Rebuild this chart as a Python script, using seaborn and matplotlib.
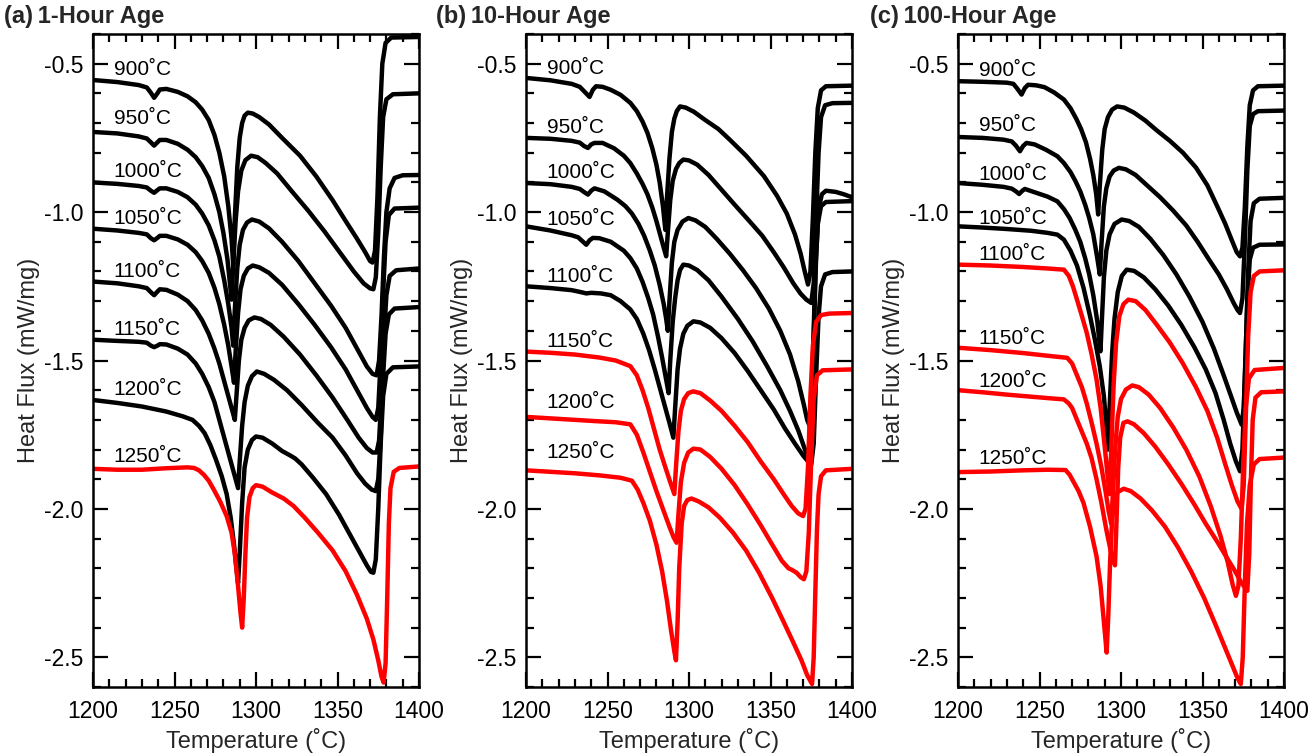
import matplotlib
matplotlib.use("Agg")
import matplotlib.pyplot as plt
import pandas as pd
import seaborn as sns
from matplotlib.ticker import MultipleLocator

# ---------------- data (temperature degC, heat flux mW/mg) ----------------
A900 = [(1200,-0.555),(1215,-0.562),(1228,-0.572),(1233,-0.58),(1235.5,-0.598),(1237.5,-0.615),(1239.5,-0.60),(1241,-0.587),(1245,-0.585),(1252,-0.595),(1258,-0.61),(1263,-0.63),(1267,-0.655),(1271,-0.69),(1274.5,-0.74),(1277.5,-0.80),(1280.5,-0.88),(1283,-0.98),(1285,-1.09),(1286,-1.18),(1287,-1.02),(1288.5,-0.85),(1290,-0.75),(1291.5,-0.70),(1293,-0.675),(1295,-0.665),(1298,-0.668),(1302,-0.68),(1308,-0.705),(1316,-0.75),(1327,-0.81),(1337,-0.88),(1347,-0.96),(1355,-1.03),(1362,-1.09),(1367,-1.135),(1370,-1.165),(1371.5,-1.17),(1373,-1.13),(1374.5,-0.95),(1376,-0.68),(1377.5,-0.50),(1379.5,-0.43),(1383,-0.412),(1400,-0.41)]
A950 = [(1200,-0.73),(1215,-0.735),(1228,-0.745),(1233,-0.752),(1235.5,-0.765),(1237.5,-0.776),(1239.5,-0.765),(1241,-0.757),(1245,-0.757),(1252,-0.77),(1258,-0.79),(1263,-0.815),(1267,-0.845),(1271,-0.885),(1274.5,-0.94),(1277.5,-1.00),(1280,-1.07),(1282.5,-1.16),(1284,-1.24),(1285,-1.295),(1286,-1.18),(1287.5,-1.03),(1289,-0.93),(1291,-0.86),(1293.5,-0.825),(1297,-0.81),(1301,-0.815),(1306,-0.835),(1313,-0.87),(1322,-0.93),(1332,-0.995),(1342,-1.065),(1352,-1.14),(1360,-1.20),(1366,-1.24),(1370,-1.257),(1372,-1.26),(1373.5,-1.22),(1375,-1.07),(1376.5,-0.85),(1378,-0.68),(1380,-0.62),(1384,-0.603),(1400,-0.60)]
A1000 = [(1200,-0.90),(1215,-0.905),(1228,-0.912),(1233,-0.917),(1235.5,-0.928),(1237.5,-0.935),(1239.5,-0.926),(1241,-0.92),(1245,-0.92),(1252,-0.932),(1258,-0.95),(1263,-0.975),(1267,-1.005),(1271,-1.045),(1274.5,-1.095),(1277.5,-1.15),(1280.5,-1.23),(1283,-1.31),(1285,-1.39),(1286,-1.45),(1287,-1.33),(1288.5,-1.19),(1290,-1.11),(1292,-1.06),(1294.5,-1.035),(1297.5,-1.025),(1302,-1.032),(1308,-1.055),(1316,-1.10),(1326,-1.165),(1336,-1.24),(1346,-1.315),(1355,-1.39),(1362,-1.46),(1368,-1.52),(1371.5,-1.545),(1374,-1.55),(1375.5,-1.50),(1377,-1.35),(1378.5,-1.15),(1380,-1.00),(1382,-0.92),(1385,-0.885),(1390,-0.876),(1400,-0.875)]
A1050 = [(1200,-1.056),(1215,-1.062),(1228,-1.07),(1233,-1.075),(1235.5,-1.088),(1237.5,-1.095),(1239.5,-1.087),(1241,-1.08),(1245,-1.08),(1252,-1.092),(1258,-1.11),(1263,-1.135),(1267,-1.165),(1271,-1.205),(1274.5,-1.255),(1277.5,-1.31),(1280.5,-1.38),(1283,-1.45),(1285,-1.52),(1286.5,-1.575),(1287.5,-1.47),(1289,-1.34),(1290.5,-1.26),(1292.5,-1.215),(1295,-1.19),(1298,-1.18),(1302,-1.186),(1308,-1.205),(1316,-1.245),(1326,-1.31),(1336,-1.38),(1346,-1.455),(1355,-1.53),(1362,-1.60),(1368,-1.66),(1371.5,-1.69),(1373.5,-1.70),(1375,-1.66),(1376.5,-1.50),(1378,-1.27),(1379.5,-1.10),(1381.5,-1.01),(1385,-0.988),(1400,-0.985)]
A1100 = [(1200,-1.234),(1215,-1.24),(1228,-1.25),(1233,-1.256),(1235.5,-1.27),(1237.5,-1.28),(1239.5,-1.268),(1241,-1.26),(1245,-1.262),(1252,-1.278),(1258,-1.30),(1263,-1.33),(1267,-1.365),(1271,-1.41),(1274.5,-1.46),(1277.5,-1.51),(1280.5,-1.57),(1283,-1.62),(1285.5,-1.67),(1287,-1.70),(1288,-1.62),(1289.5,-1.50),(1291,-1.43),(1293,-1.39),(1295.5,-1.365),(1299,-1.355),(1303,-1.36),(1309,-1.38),(1317,-1.42),(1327,-1.48),(1337,-1.55),(1347,-1.625),(1356,-1.70),(1363,-1.76),(1368,-1.795),(1371.5,-1.81),(1374,-1.81),(1375.5,-1.77),(1377,-1.62),(1378.5,-1.42),(1380,-1.28),(1382,-1.215),(1386,-1.196),(1400,-1.19)]
A1150 = [(1200,-1.43),(1215,-1.434),(1228,-1.437),(1233,-1.44),(1235.5,-1.45),(1237.5,-1.455),(1239.5,-1.45),(1241,-1.445),(1245,-1.446),(1252,-1.46),(1258,-1.48),(1263,-1.51),(1267,-1.545),(1271,-1.59),(1274.5,-1.64),(1277.5,-1.70),(1280.5,-1.76),(1283.5,-1.82),(1286.5,-1.88),(1289,-1.93),(1290,-1.84),(1291.5,-1.72),(1293,-1.64),(1295,-1.585),(1297.5,-1.553),(1300.5,-1.537),(1305,-1.545),(1311,-1.565),(1319,-1.60),(1328,-1.65),(1338,-1.71),(1347,-1.76),(1355,-1.82),(1362,-1.88),(1367,-1.915),(1371,-1.935),(1373.5,-1.94),(1375,-1.90),(1376.5,-1.76),(1378,-1.55),(1379.5,-1.41),(1381.5,-1.345),(1385,-1.325),(1400,-1.32)]
A1200 = [(1200,-1.633),(1215,-1.643),(1230,-1.655),(1245,-1.672),(1255,-1.688),(1261,-1.70),(1265,-1.72),(1268.5,-1.745),(1272,-1.785),(1275.5,-1.835),(1279,-1.89),(1282,-1.95),(1284.5,-2.03),(1286.5,-2.12),(1288,-2.20),(1289,-2.25),(1290,-2.15),(1291.5,-1.98),(1293,-1.86),(1295,-1.80),(1297.5,-1.768),(1300,-1.756),(1304,-1.76),(1310,-1.78),(1316,-1.805),(1321,-1.82),(1324,-1.83),(1328,-1.85),(1335,-1.895),(1343,-1.95),(1351,-2.02),(1358,-2.09),(1364,-2.15),(1368,-2.19),(1370.5,-2.212),(1372,-2.215),(1373.5,-2.17),(1375,-2.00),(1376.5,-1.78),(1378,-1.62),(1380,-1.545),(1384,-1.523),(1400,-1.52)]
A1250 = [(1200,-1.865),(1215,-1.868),(1230,-1.868),(1245,-1.863),(1258,-1.86),(1262,-1.862),(1265,-1.87),(1268,-1.885),(1271,-1.905),(1274,-1.934),(1278,-1.975),(1282,-2.024),(1285,-2.08),(1287,-2.15),(1289,-2.26),(1290.5,-2.35),(1291.5,-2.40),(1292.5,-2.30),(1293.5,-2.15),(1294.5,-2.03),(1296,-1.96),(1298,-1.93),(1300,-1.92),(1304,-1.925),(1310,-1.945),(1317,-1.965),(1323,-1.99),(1330,-2.03),(1338,-2.08),(1347,-2.14),(1355,-2.21),(1362,-2.29),(1368,-2.37),(1372,-2.44),(1375,-2.51),(1377,-2.565),(1378.3,-2.585),(1379.5,-2.52),(1380.5,-2.30),(1381.5,-2.05),(1382.5,-1.93),(1384.5,-1.875),(1388,-1.862),(1400,-1.857)]

B900 = [(1200,-0.548),(1215,-0.556),(1228,-0.568),(1233,-0.578),(1236,-0.595),(1239,-0.612),(1241,-0.588),(1243,-0.576),(1247,-0.578),(1252,-0.588),(1258,-0.605),(1264,-0.632),(1268,-0.66),(1271.5,-0.695),(1274.5,-0.733),(1277.5,-0.785),(1280,-0.84),(1282,-0.90),(1284,-0.98),(1285.5,-1.06),(1286.5,-0.95),(1288,-0.82),(1289.5,-0.73),(1291,-0.685),(1292.5,-0.66),(1294.5,-0.644),(1298,-0.648),(1303,-0.662),(1310,-0.69),(1318,-0.72),(1325,-0.756),(1335,-0.81),(1346,-0.879),(1354,-0.945),(1360,-1.005),(1365,-1.075),(1368.5,-1.14),(1371,-1.20),(1373,-1.244),(1374.5,-1.20),(1376,-1.02),(1377.5,-0.80),(1379,-0.65),(1381,-0.59),(1384,-0.576),(1400,-0.574)]
B950 = [(1200,-0.75),(1215,-0.753),(1228,-0.76),(1233,-0.766),(1235.5,-0.777),(1238,-0.784),(1240,-0.772),(1242,-0.767),(1247,-0.767),(1254,-0.785),(1260,-0.81),(1264,-0.835),(1268,-0.87),(1271.5,-0.905),(1274.5,-0.94),(1277.5,-0.985),(1280,-1.03),(1282.5,-1.08),(1284.5,-1.12),(1286,-1.149),(1287,-1.07),(1288.5,-0.96),(1290,-0.895),(1292,-0.855),(1294,-0.835),(1296.5,-0.823),(1300,-0.826),(1305,-0.84),(1312,-0.875),(1320,-0.925),(1328,-0.975),(1337,-1.03),(1345,-1.08),(1352,-1.135),(1358,-1.185),(1364,-1.24),(1368.5,-1.275),(1372,-1.295),(1375,-1.306),(1376.5,-1.24),(1378,-1.02),(1379.5,-0.80),(1381,-0.68),(1383.5,-0.64),(1388,-0.633),(1400,-0.632)]
B1000 = [(1200,-0.902),(1215,-0.906),(1228,-0.915),(1233,-0.922),(1235.5,-0.932),(1238,-0.941),(1240,-0.928),(1242,-0.92),(1248,-0.93),(1256,-0.958),(1261,-0.98),(1265,-1.005),(1269,-1.04),(1272.5,-1.08),(1276,-1.13),(1279,-1.18),(1282,-1.245),(1284.5,-1.31),(1286,-1.36),(1287,-1.40),(1288,-1.30),(1289.5,-1.17),(1291,-1.10),(1293,-1.06),(1296,-1.032),(1299.6,-1.02),(1304,-1.028),(1310,-1.05),(1317,-1.09),(1325,-1.14),(1333,-1.195),(1341,-1.255),(1349,-1.325),(1356,-1.40),(1362,-1.48),(1367,-1.57),(1370.5,-1.65),(1372.5,-1.70),(1374,-1.72),(1375,-1.66),(1376.5,-1.42),(1378,-1.15),(1379.5,-0.99),(1381.5,-0.94),(1384,-0.928),(1390,-0.932),(1395,-0.94),(1400,-0.95)]
B1050 = [(1200,-1.048),(1215,-1.062),(1228,-1.078),(1232,-1.085),(1235,-1.10),(1237,-1.11),(1239,-1.095),(1241,-1.087),(1245,-1.088),(1252,-1.10),(1260,-1.13),(1264,-1.155),(1268,-1.19),(1271.5,-1.235),(1275,-1.29),(1278,-1.345),(1281,-1.42),(1283.5,-1.49),(1286,-1.565),(1287.5,-1.61),(1288.5,-1.50),(1290,-1.37),(1291.5,-1.29),(1293,-1.23),(1294.5,-1.195),(1296.5,-1.177),(1300,-1.18),(1305,-1.195),(1312,-1.23),(1320,-1.285),(1330,-1.36),(1339,-1.435),(1348,-1.52),(1356,-1.60),(1362,-1.67),(1367,-1.735),(1370.5,-1.79),(1373,-1.83),(1374.5,-1.75),(1376,-1.50),(1377.5,-1.20),(1379,-1.04),(1381,-0.98),(1384,-0.966),(1400,-0.963)]
B1100 = [(1200,-1.25),(1215,-1.256),(1228,-1.263),(1234,-1.27),(1237,-1.274),(1240,-1.272),(1246,-1.274),(1252,-1.28),(1258,-1.30),(1264,-1.328),(1268,-1.36),(1272,-1.41),(1275.5,-1.465),(1279,-1.53),(1282,-1.59),(1285,-1.65),(1288,-1.71),(1290.4,-1.76),(1291.5,-1.66),(1293,-1.53),(1294.5,-1.46),(1296.5,-1.41),(1299,-1.383),(1302.7,-1.368),(1307,-1.372),(1313,-1.39),(1320,-1.425),(1328,-1.475),(1336,-1.535),(1344,-1.60),(1352,-1.665),(1359,-1.73),(1365,-1.78),(1370,-1.82),(1373,-1.84),(1375,-1.85),(1376.5,-1.78),(1378,-1.55),(1379.5,-1.35),(1381,-1.25),(1383.5,-1.21),(1388,-1.202),(1400,-1.20)]
B1150 = [(1200,-1.47),(1215,-1.474),(1230,-1.48),(1245,-1.49),(1255,-1.50),(1264,-1.519),(1268,-1.55),(1271.5,-1.60),(1275,-1.66),(1278.5,-1.73),(1282,-1.80),(1285.5,-1.86),(1288.5,-1.91),(1291,-1.95),(1292,-1.86),(1293.5,-1.74),(1295,-1.67),(1297,-1.63),(1299.5,-1.61),(1302.6,-1.604),(1307,-1.61),(1313,-1.635),(1320,-1.67),(1328,-1.72),(1336,-1.775),(1344,-1.84),(1352,-1.90),(1358,-1.95),(1363,-1.99),(1367,-2.015),(1370,-2.024),(1371.5,-2.00),(1373,-1.86),(1374.5,-1.62),(1376,-1.45),(1378,-1.37),(1381,-1.347),(1386,-1.342),(1400,-1.34)]
B1200 = [(1200,-1.69),(1215,-1.695),(1230,-1.70),(1245,-1.705),(1255,-1.708),(1264,-1.715),(1268,-1.75),(1272,-1.81),(1276,-1.875),(1280,-1.94),(1284,-2.00),(1288,-2.06),(1290.5,-2.095),(1292.4,-2.114),(1293.5,-2.02),(1295,-1.91),(1297,-1.845),(1299.5,-1.81),(1302.7,-1.797),(1307,-1.80),(1313,-1.825),(1320,-1.865),(1328,-1.92),(1336,-1.985),(1344,-2.055),(1351,-2.12),(1357,-2.175),(1361,-2.20),(1363,-2.205),(1366,-2.215),(1368.5,-2.23),(1370.5,-2.237),(1372,-2.21),(1373.5,-2.08),(1375,-1.83),(1376.5,-1.63),(1378.5,-1.55),(1382,-1.533),(1400,-1.53)]
B1250 = [(1200,-1.87),(1215,-1.875),(1230,-1.88),(1245,-1.887),(1258,-1.895),(1265,-1.905),(1268.5,-1.935),(1272,-1.98),(1276,-2.04),(1280,-2.12),(1283.5,-2.21),(1286.5,-2.31),(1289,-2.41),(1291,-2.48),(1292,-2.51),(1293,-2.38),(1294,-2.20),(1295.5,-2.05),(1297,-1.99),(1299,-1.97),(1301.5,-1.965),(1306,-1.975),(1312,-1.995),(1319,-2.03),(1327,-2.08),(1335,-2.14),(1343,-2.215),(1351,-2.30),(1358,-2.38),(1364,-2.45),(1369,-2.51),(1372.5,-2.56),(1375.5,-2.59),(1376.5,-2.50),(1377.5,-2.28),(1378.5,-2.07),(1379.5,-1.95),(1381,-1.89),(1384,-1.87),(1400,-1.865)]

C900 = [(1200,-0.559),(1215,-0.561),(1230,-0.564),(1234,-0.568),(1236.5,-0.585),(1239,-0.604),(1241,-0.582),(1243,-0.571),(1248,-0.573),(1253,-0.579),(1259,-0.597),(1265,-0.621),(1269,-0.65),(1272.5,-0.685),(1275.5,-0.72),(1278.5,-0.765),(1281,-0.82),(1283,-0.875),(1284.8,-0.94),(1286,-1.008),(1287,-0.91),(1288.5,-0.79),(1290,-0.72),(1292,-0.68),(1294.5,-0.655),(1297.6,-0.644),(1302,-0.648),(1308,-0.665),(1315,-0.692),(1322,-0.725),(1330,-0.76),(1338,-0.80),(1346,-0.85),(1353,-0.91),(1359,-0.98),(1364,-1.04),(1368,-1.095),(1371,-1.135),(1373,-1.149),(1374.5,-1.12),(1376,-0.98),(1377.5,-0.78),(1379,-0.64),(1381,-0.59),(1384,-0.576),(1400,-0.574)]
C950 = [(1200,-0.747),(1215,-0.75),(1228,-0.756),(1233,-0.762),(1235.5,-0.776),(1238,-0.795),(1240,-0.777),(1242,-0.767),(1247,-0.772),(1254,-0.79),(1261,-0.812),(1265,-0.835),(1269,-0.865),(1272,-0.895),(1275,-0.93),(1278,-0.975),(1280.5,-1.02),(1283,-1.075),(1285.3,-1.15),(1287,-1.21),(1288,-1.11),(1289.5,-0.98),(1291,-0.92),(1293,-0.88),(1295.5,-0.86),(1298.7,-0.851),(1303,-0.856),(1309,-0.875),(1316,-0.91),(1324,-0.95),(1332,-0.995),(1340,-1.045),(1347,-1.10),(1354,-1.16),(1360,-1.21),(1365,-1.26),(1369,-1.305),(1371.5,-1.33),(1373,-1.34),(1374.5,-1.29),(1376,-1.10),(1377.5,-0.86),(1379,-0.71),(1381,-0.67),(1384,-0.66),(1400,-0.658)]
C1000 = [(1200,-0.902),(1215,-0.908),(1228,-0.915),(1233,-0.921),(1235.5,-0.93),(1237.5,-0.939),(1239.5,-0.928),(1241,-0.922),(1248,-0.935),(1255,-0.948),(1261,-0.964),(1265,-0.99),(1268.5,-1.02),(1272,-1.06),(1275,-1.10),(1278,-1.155),(1280.5,-1.21),(1283,-1.28),(1285.5,-1.37),(1287.4,-1.469),(1288.3,-1.36),(1289.5,-1.22),(1291,-1.13),(1293,-1.075),(1296,-1.04),(1300.4,-1.025),(1305,-1.03),(1311,-1.05),(1318,-1.09),(1326,-1.145),(1334,-1.21),(1342,-1.285),(1350,-1.37),(1357,-1.46),(1363,-1.55),(1367.5,-1.62),(1371,-1.675),(1374,-1.716),(1375.3,-1.66),(1376.5,-1.47),(1378,-1.20),(1379.5,-1.03),(1381.5,-0.97),(1385,-0.955),(1400,-0.952)]
C1050 = [(1200,-1.048),(1215,-1.052),(1230,-1.057),(1245,-1.063),(1255,-1.07),(1261,-1.076),(1265,-1.093),(1269,-1.13),(1273,-1.18),(1277,-1.255),(1281,-1.35),(1284,-1.43),(1287,-1.52),(1289.5,-1.62),(1291,-1.72),(1292,-1.80),(1293,-1.66),(1294.5,-1.48),(1296,-1.36),(1298,-1.27),(1300.5,-1.215),(1303.5,-1.194),(1308,-1.198),(1314,-1.22),(1321,-1.26),(1329,-1.315),(1337,-1.38),(1345,-1.455),(1352,-1.53),(1358,-1.61),(1363,-1.70),(1367,-1.78),(1370.5,-1.84),(1373,-1.873),(1374.5,-1.80),(1376,-1.56),(1377.5,-1.30),(1379,-1.16),(1381,-1.12),(1385,-1.11),(1400,-1.109)]
C1100 = [(1200,-1.177),(1220,-1.18),(1240,-1.185),(1255,-1.19),(1265,-1.194),(1268,-1.215),(1270.5,-1.25),(1273,-1.295),(1276,-1.35),(1279,-1.407),(1282,-1.48),(1285,-1.564),(1287.5,-1.66),(1290,-1.79),(1292,-1.90),(1293,-1.95),(1294,-1.80),(1295.5,-1.58),(1297,-1.44),(1299,-1.35),(1301.5,-1.31),(1304.5,-1.295),(1309,-1.30),(1315,-1.33),(1322,-1.38),(1330,-1.44),(1338,-1.51),(1346,-1.59),(1353,-1.67),(1359,-1.76),(1364,-1.85),(1368,-1.92),(1371.5,-1.975),(1374,-2.0),(1375.3,-1.92),(1376.5,-1.70),(1378,-1.42),(1379.5,-1.27),(1381.5,-1.215),(1385,-1.20),(1400,-1.196)]
C1150 = [(1200,-1.457),(1220,-1.465),(1240,-1.475),(1255,-1.484),(1267,-1.491),(1270,-1.51),(1273,-1.55),(1276,-1.59),(1279,-1.645),(1282,-1.71),(1285,-1.78),(1288,-1.86),(1290.5,-1.94),(1292.5,-2.01),(1294,-2.05),(1295,-1.95),(1296.5,-1.79),(1298,-1.69),(1300,-1.63),(1303,-1.598),(1306.9,-1.584),(1311,-1.59),(1317,-1.615),(1324,-1.66),(1332,-1.725),(1340,-1.80),(1348,-1.89),(1355,-1.99),(1361,-2.09),(1365.5,-2.18),(1368.5,-2.255),(1370.5,-2.293),(1372,-2.26),(1373.5,-2.10),(1375,-1.85),(1376.5,-1.66),(1378.5,-1.56),(1382,-1.532),(1400,-1.525)]
C1200 = [(1200,-1.60),(1215,-1.607),(1230,-1.615),(1245,-1.622),(1258,-1.628),(1265,-1.631),(1268,-1.645),(1270,-1.66),(1273,-1.70),(1276,-1.74),(1279,-1.78),(1282,-1.83),(1285,-1.90),(1288,-1.98),(1291,-2.07),(1294,-2.15),(1296.3,-2.19),(1297.2,-2.05),(1298.3,-1.86),(1299.5,-1.76),(1301.5,-1.71),(1304,-1.705),(1308,-1.715),(1314,-1.745),(1321,-1.79),(1329,-1.85),(1337,-1.915),(1345,-1.985),(1352,-2.05),(1359,-2.11),(1365,-2.165),(1370,-2.21),(1374,-2.25),(1377.5,-2.276),(1378.7,-2.15),(1379.7,-1.90),(1380.8,-1.70),(1382.5,-1.625),(1386,-1.607),(1400,-1.604)]
C1250 = [(1200,-1.876),(1220,-1.874),(1240,-1.87),(1255,-1.868),(1266,-1.869),(1268.5,-1.885),(1271,-1.91),(1274,-1.94),(1277,-1.98),(1281,-2.06),(1285,-2.16),(1287.5,-2.26),(1289.5,-2.38),(1291.2,-2.484),(1292.2,-2.36),(1293.3,-2.18),(1294.5,-2.04),(1296,-1.97),(1298,-1.943),(1301.7,-1.932),(1306,-1.94),(1312,-1.965),(1319,-2.005),(1327,-2.06),(1335,-2.13),(1343,-2.21),(1351,-2.30),(1358,-2.39),(1364,-2.47),(1368.5,-2.53),(1371.5,-2.57),(1373.5,-2.59),(1374.7,-2.50),(1376,-2.25),(1377.3,-2.05),(1379,-1.92),(1381.5,-1.85),(1385,-1.832),(1400,-1.827)]

AGE_TEMPS = ["900", "950", "1000", "1050", "1100", "1150", "1200", "1250"]
PANEL_TITLES = ["(a)\u20091-Hour Age", "(b)\u200910-Hour Age", "(c)\u2009100-Hour Age"]
PANEL_CURVES = [
    [A900, A950, A1000, A1050, A1100, A1150, A1200, A1250],
    [B900, B950, B1000, B1050, B1100, B1150, B1200, B1250],
    [C900, C950, C1000, C1050, C1100, C1150, C1200, C1250],
]
# first age temperature drawn in red, per panel
RED_FROM = ["1250", "1150", "1100"]
LABEL_Y = [
    [-0.518, -0.685, -0.862, -1.020, -1.200, -1.396, -1.598, -1.824],
    [-0.515, -0.716, -0.868, -1.025, -1.216, -1.435, -1.641, -1.810],
    [-0.522, -0.709, -0.874, -1.020, -1.143, -1.426, -1.570, -1.830],
]
X_TICKS = [1200, 1250, 1300, 1350, 1400]
Y_TICKS = [-2.5, -2.0, -1.5, -1.0, -0.5]

# ---------------- style ----------------
sns.set_theme(style="ticks")
plt.rcParams['font.family'] = ['Liberation Sans', 'DejaVu Sans']
plt.rcParams['axes.unicode_minus'] = False

W, H = 1316, 756
fig = plt.figure(figsize=(W / 100, H / 100), dpi=100)
lefts = [93, 526, 958]
title_x = [4, 436, 870]

for p in range(3):
    ax = fig.add_axes([lefts[p] / W, 1 - 687 / H, 326 / W, 653 / H])
    rows = []
    red_idx = AGE_TEMPS.index(RED_FROM[p])
    palette = {}
    for k, (name, pts) in enumerate(zip(AGE_TEMPS, PANEL_CURVES[p])):
        for t, v in pts:
            rows.append({"T": t, "v": v, "curve": name})
        palette[name] = "#ff0000" if k >= red_idx else "#000000"
    df = pd.DataFrame(rows)
    sns.lineplot(data=df, x="T", y="v", hue="curve", palette=palette,
                 hue_order=AGE_TEMPS, legend=False, sort=False, estimator=None,
                 linewidth=3.2, solid_joinstyle="round", solid_capstyle="round",
                 ax=ax)
    for name, ly in zip(AGE_TEMPS, LABEL_Y[p]):
        ax.text(1212.8, ly, name + "\u02daC", fontsize=15, ha="left", va="center",
                color="black")
    ax.set_xlim(1200, 1400)
    ax.set_ylim(-2.6, -0.4)
    ax.set_xticks(X_TICKS)
    ax.set_yticks(Y_TICKS)
    ax.set_xticklabels([str(t) for t in X_TICKS])
    ax.set_yticklabels([f"{t:.1f}" for t in Y_TICKS])
    ax.xaxis.set_minor_locator(MultipleLocator(10))
    ax.yaxis.set_minor_locator(MultipleLocator(0.1))
    ax.tick_params(which="both", direction="in", top=True, right=True,
                   width=1.6, colors="black", labelsize=16.5)
    ax.tick_params(which="major", length=11)
    ax.tick_params(which="minor", length=5.5)
    ax.tick_params(axis="x", pad=9)
    ax.tick_params(axis="y", pad=7)
    for s in ax.spines.values():
        s.set_linewidth(1.8)
        s.set_color("black")
    ax.set_xlabel("Temperature (\u02daC)", fontsize=17, labelpad=4)
    ax.set_ylabel("Heat Flux (mW/mg)", fontsize=17, labelpad=3)
    fig.text(title_x[p] / W, 1 - 17 / H, PANEL_TITLES[p], fontsize=17,
             fontweight="bold", ha="left", va="center")

fig.savefig("out.png", dpi=100)
